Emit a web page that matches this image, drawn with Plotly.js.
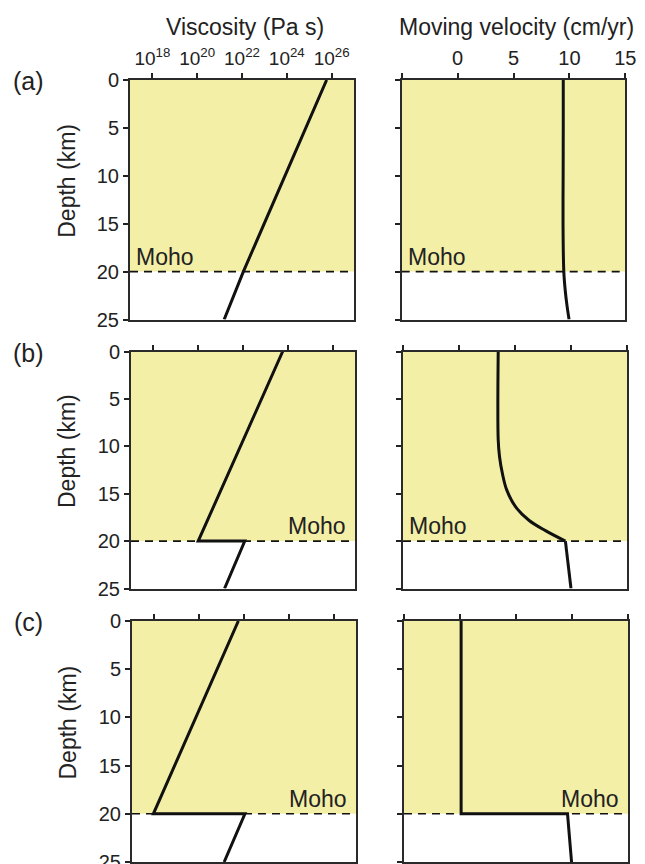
<!DOCTYPE html>
<html>
<head>
<meta charset="utf-8">
<script src="https://cdn.plot.ly/plotly-3.0.1.min.js"></script>
<style>html,body{margin:0;padding:0;background:#fff;}#chart{width:645px;height:864px;}</style>
</head>
<body>
<div id="chart"></div>
<script>
// ---------- data ----------
const depthTicks = [0, 5, 10, 15, 20, 25];
const viscTickVals = [1e18, 1e20, 1e22, 1e24, 1e26];
const viscTickText = ['10<sup>18</sup>', '10<sup>20</sup>', '10<sup>22</sup>', '10<sup>24</sup>', '10<sup>26</sup>'];
const velTickVals = [-5, 0, 5, 10, 15];
const velTickText = ['', '0', '5', '10', '15'];
const mohoDepth = 20;
const panelLabels = ['(a)', '(b)', '(c)'];

// viscosity (Pa s) vs depth (km)
const viscDepthA = [0, 20, 25];
const viscA = [6.0e25, 1.15e22, 1.6e21];
const viscDepthB = [0, 20, 20, 25];
const viscB = [5.9e23, 1.0e20, 1.2e22, 1.5e21];
const viscDepthC = [0, 20, 20, 25];
const viscC = [5.6e21, 9.0e17, 1.1e22, 1.3e21];

// moving velocity (cm/yr) vs depth (km)
const velDepthA = [0, 5, 10, 15, 20, 22, 23.5, 25];
const velA = [9.45, 9.45, 9.44, 9.43, 9.5, 9.63, 9.78, 9.97];
const velDepthBcrust = [0, 9.3, 11.1, 12.9, 14.6, 16.4, 17.8, 18.9, 20];
const velBcrust = [3.5, 3.5, 3.62, 3.88, 4.26, 5.06, 6.24, 7.72, 9.5];
const velDepthBmantle = [20, 25];
const velBmantle = [9.5, 10.0];
const velDepthC = [0, 20, 20, 25];
const velC = [0.1, 0.1, 9.6, 9.96];

// ---------- layout helpers ----------
const W = 645, H = 864;
const FONT = 'Liberation Sans, Arial, Helvetica, sans-serif';
const TXT = '#222';
const px = x => x / W;
const py = y => 1 - y / H;

// pixel boxes per row: [leftX0,leftX1,rightX0,rightX1,top,bottom]
const rows = [
  [130, 354, 401.7, 625.3, 80, 319.5],
  [131, 355, 403, 627, 351.5, 588.5],
  [132, 356, 404, 628, 621, 862]
];

const lineStyle = {color: '#111', width: 3};
const traces = [
  {x: viscA, y: viscDepthA, xaxis: 'x', yaxis: 'y', mode: 'lines', line: lineStyle},
  {x: velA, y: velDepthA, xaxis: 'x2', yaxis: 'y2', mode: 'lines', line: Object.assign({shape: 'spline'}, lineStyle)},
  {x: viscB, y: viscDepthB, xaxis: 'x3', yaxis: 'y3', mode: 'lines', line: lineStyle},
  {x: velBcrust, y: velDepthBcrust, xaxis: 'x4', yaxis: 'y4', mode: 'lines', line: Object.assign({shape: 'spline'}, lineStyle)},
  {x: velBmantle, y: velDepthBmantle, xaxis: 'x4', yaxis: 'y4', mode: 'lines', line: lineStyle},
  {x: viscC, y: viscDepthC, xaxis: 'x5', yaxis: 'y5', mode: 'lines', line: lineStyle},
  {x: velC, y: velDepthC, xaxis: 'x6', yaxis: 'y6', mode: 'lines', line: lineStyle}
];
traces.forEach(t => { t.showlegend = false; t.hoverinfo = 'skip'; });

const layout = {
  width: W, height: H,
  margin: {l: 0, r: 0, t: 0, b: 0},
  paper_bgcolor: '#fff', plot_bgcolor: '#fff',
  showlegend: false,
  font: {family: FONT, color: TXT, size: 20},
  shapes: [], annotations: []
};

function axisBase() {
  return {
    showline: true, mirror: true, linecolor: '#2a2a2a', linewidth: 2,
    showgrid: false, zeroline: false,
    ticks: 'outside', ticklen: 5, tickwidth: 2, tickcolor: '#222',
    ticklabeloverflow: 'allow',
    fixedrange: true
  };
}

for (let r = 0; r < 3; r++) {
  const [lx0, lx1, rx0, rx1, top, bot] = rows[r];
  const yd = [py(bot), py(top)];
  for (let c = 0; c < 2; c++) {
    const n = r * 2 + c + 1;
    const xk = n === 1 ? 'xaxis' : 'xaxis' + n;
    const yk = n === 1 ? 'yaxis' : 'yaxis' + n;
    const xid = n === 1 ? 'x' : 'x' + n;
    const yid = n === 1 ? 'y' : 'y' + n;
    const xa = axisBase();
    xa.side = 'top';
    xa.anchor = yid;
    xa.domain = c === 0 ? [px(lx0), px(lx1)] : [px(rx0), px(rx1)];
    xa.tickfont = {family: FONT, color: TXT, size: c === 0 ? 19 : 20};
    if (c === 0) {
      xa.type = 'log'; xa.range = [17, 27];
      xa.tickmode = 'array'; xa.tickvals = viscTickVals; xa.ticktext = viscTickText;
    } else {
      xa.range = [-5, 15];
      xa.tickmode = 'array'; xa.tickvals = velTickVals; xa.ticktext = velTickText;
    }
    xa.showticklabels = (r === 0);
    const ya = axisBase();
    ya.anchor = xid;
    ya.domain = yd;
    ya.range = [25, 0];
    ya.tickmode = 'array'; ya.tickvals = depthTicks;
    ya.tickfont = {family: FONT, color: TXT, size: 20};
    ya.showticklabels = (c === 0);
    layout[xk] = xa;
    layout[yk] = ya;

    // crust fill and Moho dashed line
    layout.shapes.push({type: 'rect', layer: 'below', xref: xid + ' domain', yref: yid,
      x0: 0, x1: 1, y0: 0, y1: mohoDepth, fillcolor: '#f3efa6', line: {width: 0}});
    layout.shapes.push({type: 'line', layer: 'below', xref: xid + ' domain', yref: yid,
      x0: 0, x1: 1, y0: mohoDepth, y1: mohoDepth, line: {color: '#111', width: 1.6, dash: '8px,6px'}});

    // Moho label
    const leftSide = (r === 0 && c === 0) || (r === 0 && c === 1) || (r === 1 && c === 1);
    layout.annotations.push({
      xref: xid + ' domain', yref: yid, x: leftSide ? 0.02 : 0.97, y: mohoDepth,
      xanchor: leftSide ? 'left' : 'right', yanchor: 'bottom', yshift: 0,
      text: 'Moho', showarrow: false, font: {family: FONT, size: 23, color: TXT}
    });
  }
  // panel label and depth title
  const centerY = (top + bot) / 2;
  layout.annotations.push({xref: 'paper', yref: 'paper', x: px(28), y: py(top + 1),
    xanchor: 'center', yanchor: 'middle', text: panelLabels[r], showarrow: false,
    font: {family: FONT, size: 25, color: TXT}});
  layout.annotations.push({xref: 'paper', yref: 'paper', x: px(67), y: py(centerY - 19),
    xanchor: 'center', yanchor: 'middle', textangle: -90, text: 'Depth (km)', showarrow: false,
    font: {family: FONT, size: 23, color: TXT}});
}

layout.annotations.push({xref: 'paper', yref: 'paper', x: px(245), y: py(27),
  xanchor: 'center', yanchor: 'middle', text: 'Viscosity (Pa s)', showarrow: false,
  font: {family: FONT, size: 23, color: TXT}});
layout.annotations.push({xref: 'paper', yref: 'paper', x: px(516), y: py(27),
  xanchor: 'center', yanchor: 'middle', text: 'Moving velocity (cm/yr)', showarrow: false,
  font: {family: FONT, size: 23, color: TXT}});

Plotly.newPlot('chart', traces, layout, {displayModeBar: false, staticPlot: true});
</script>
</body>
</html>
